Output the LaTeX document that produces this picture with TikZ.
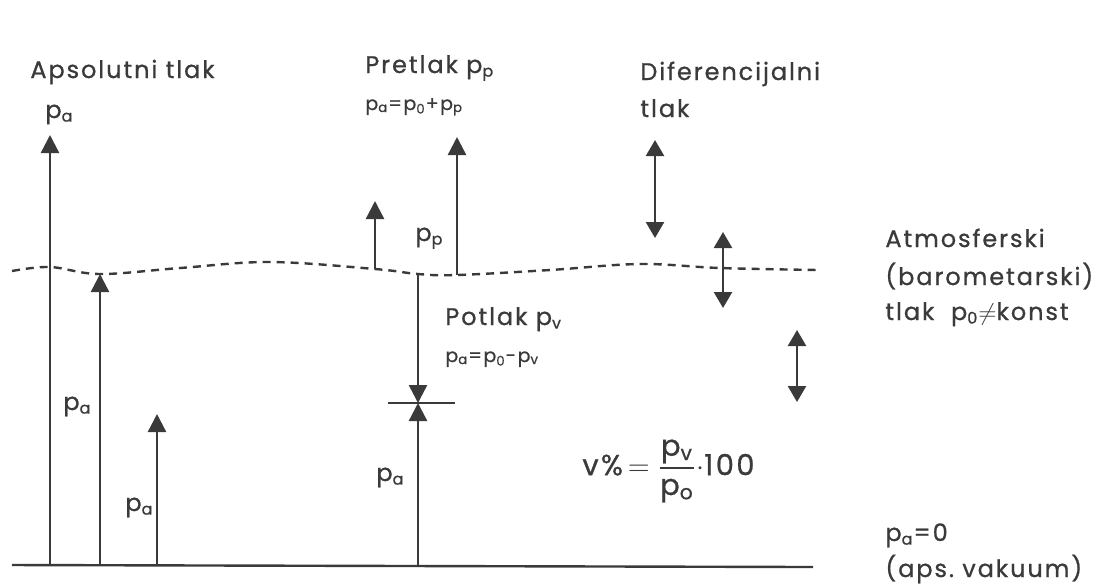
\documentclass[tikz,border=0pt]{standalone}
\usepackage{fontspec}
\usepackage{amsmath}
\setmainfont{Poppins}[LetterSpace=8, FakeBold=0.8]
\usetikzlibrary{arrows.meta}
\definecolor{inkgray}{HTML}{3A3A3A}
\newcommand{\psub}[1]{p\textsubscript{#1}}

\begin{document}
\begin{tikzpicture}[
  x=0.5pt,
  y=-0.5pt,
  every node/.style={font=\fontsize{12}{14}\selectfont, text=inkgray, inner sep=0pt, anchor=base west},
  smalltext/.style={font=\fontsize{9.5}{11}\selectfont},
  press/.style={draw=inkgray, line width=1.2pt, -{Triangle[length=9pt,width=9pt]}},
  twoway/.style={draw=inkgray, line width=1.2pt, {Triangle[length=8pt,width=9pt]}-{Triangle[length=8pt,width=9pt]}},
  level/.style={draw=inkgray, line width=1.2pt},
  atmline/.style={draw=inkgray, line width=1.2pt, dash pattern=on 4pt off 3pt}
]
  \useasboundingbox (0,0) rectangle (1107,586);

  % ---- zero level (absolute vacuum) and atmospheric level ----
  \draw[level] (12,565) -- (813,567);
  \draw[atmline] plot[smooth, tension=0.6] coordinates {
    (12,271) (50,267) (100,274) (180,268) (270,262) (375,269)
    (418,274) (457,275) (550,270) (640,264) (720,268) (818,270)};

  % ---- named points ----
  \coordinate (abs1base) at (50,565);   \coordinate (abs1tip) at (50,135);
  \coordinate (abs2base) at (100,565);  \coordinate (abs2tip) at (100,274);
  \coordinate (abs3base) at (157,565);  \coordinate (abs3tip) at (157,414);
  \coordinate (pre1base) at (375,269);  \coordinate (pre1tip) at (375,201);
  \coordinate (pre2base) at (457,275);  \coordinate (pre2tip) at (457,137);
  \coordinate (vacbase) at (418,274);   \coordinate (vacmark) at (418,403);
  \coordinate (vaczero) at (418,566);

  % ---- absolute pressure ----
  \draw[press] (abs1base) -- (abs1tip);
  \draw[press] (abs2base) -- (abs2tip);
  \draw[press] (abs3base) -- (abs3tip);

  % ---- gauge pressure ----
  \draw[press] (pre1base) -- (pre1tip);
  \draw[press] (pre2base) -- (pre2tip);

  % ---- vacuum ----
  \draw[press] (vacbase) -- (vacmark);
  \draw[press] (vaczero) -- (vacmark);
  \draw[draw=inkgray, line width=0.7pt] (388,403) -- (455,403);

  % ---- differential pressure ----
  \draw[twoway] (655,140) -- (655,238);
  \draw[twoway] (723,232) -- (723,308);
  \draw[twoway] (797,330) -- (797,402);

  % ---- text labels ----
  \node (abstitle) at (30,78) {Apsolutni tlak};
  \node (abssym) at (45,118) {\psub{a}};
  \node (absval2) at (63,410) {\psub{a}};
  \node (absval3) at (125,511) {\psub{a}};
  \node (pretitle) at (365,73) {Pretlak \psub{p}};
  \node[smalltext] (preeq) at (365,110) {\psub{a}=\psub{0}+\psub{p}};
  \node (preval) at (415,241) {\psub{p}};
  \node (vactitle) at (445,325) {Potlak \psub{v}};
  \node[smalltext] (vaceq) at (445,362) {\psub{a}=\psub{0}-\psub{v}};
  \node (vacval) at (376,481) {\psub{a}};
  \node (diftitle) at (640,80) {Diferencijalni};
  \node (diftitle2) at (640,117) {tlak};
  \node (atm1) at (885,247) {Atmosferski};
  \node (atm2) at (885,285) {(barometarski)};
  \node (atm3) at (885,320) {tlak\ \ \psub{0}$\neq$konst};
  \node (zero1) at (885,541) {\psub{a}=0};
  \node (zero2) at (885,577) {(aps.\ vakuum)};
  \node[anchor=west, font=\fontsize{14.5}{16}\selectfont] (ratio) at (582,471)
    {v\%\,$=\dfrac{\text{\psub{v}}}{\text{\psub{o}}}\cdot$100};
\end{tikzpicture}
\end{document}
